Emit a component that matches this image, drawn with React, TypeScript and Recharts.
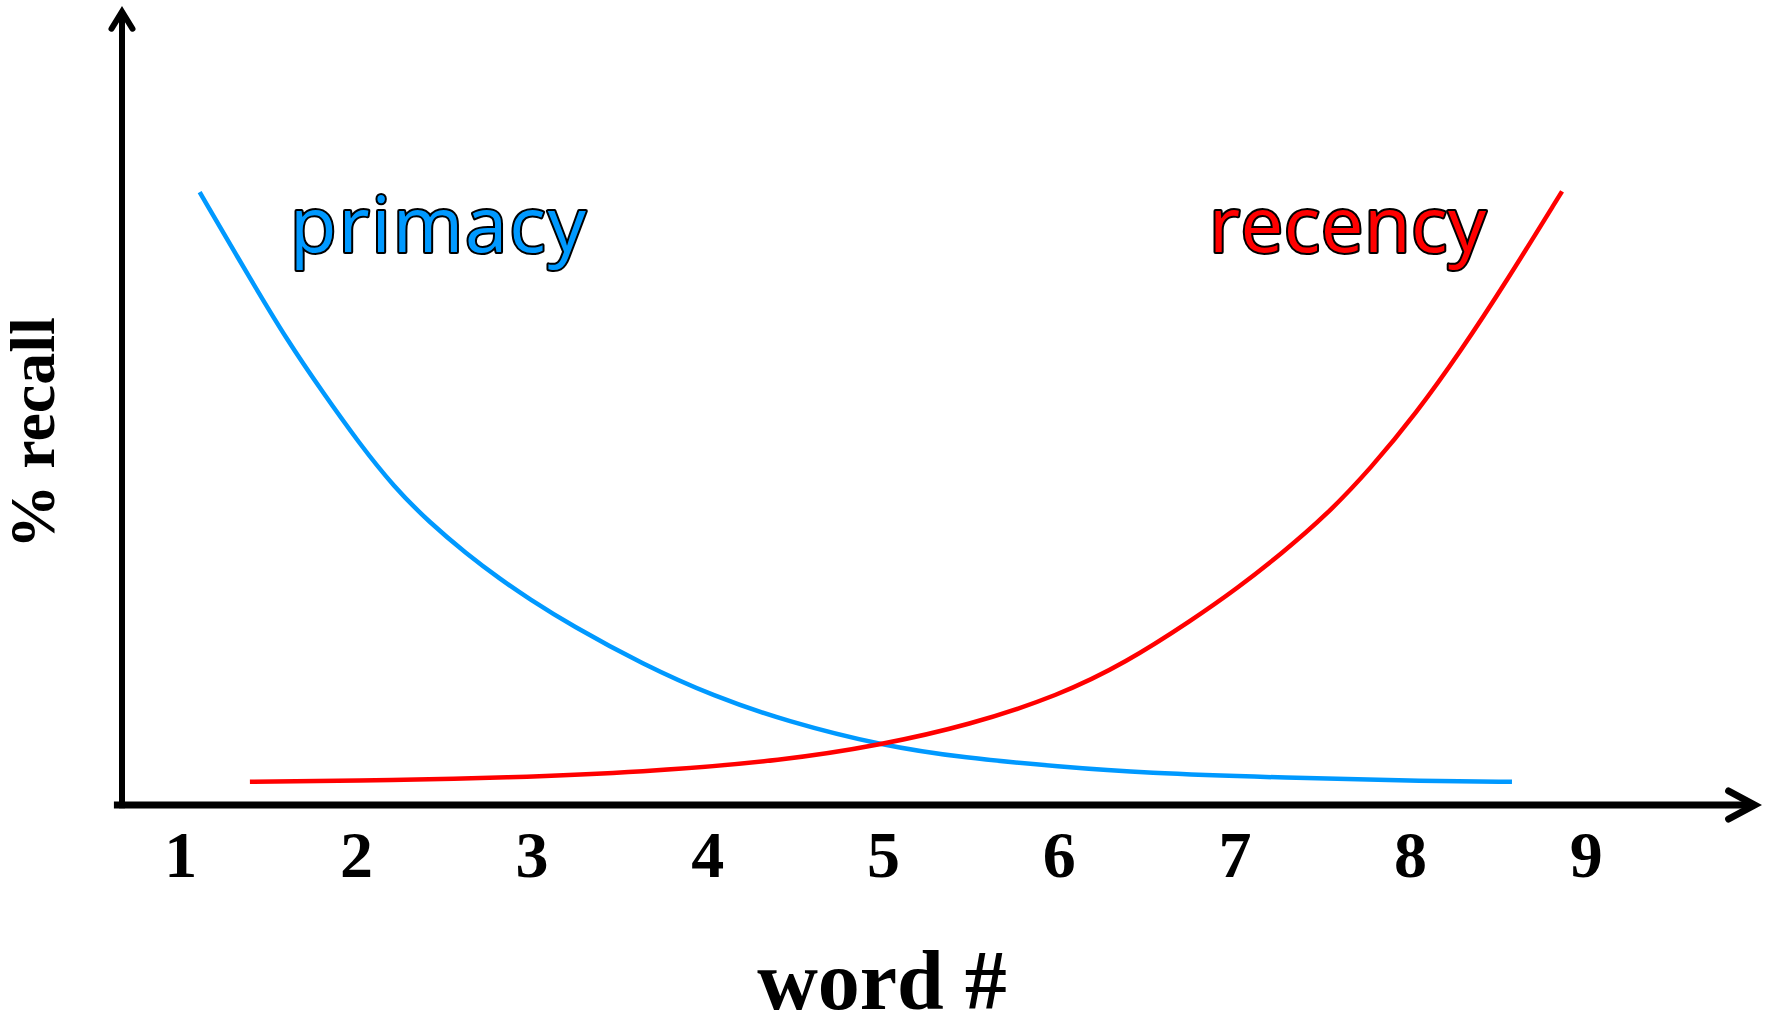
import React from 'react';
import { LineChart, Line, XAxis, YAxis, ReferenceLine, ReferenceDot, Label } from 'recharts';

// word position (x) and % recall (y)
const wordTicks = [1, 2, 3, 4, 5, 6, 7, 8, 9];
const primacyX = [1.108, 1.4, 1.605, 1.81, 2.015, 2.214, 2.419, 2.624, 2.823, 2.977, 3.222, 3.631, 4.035, 4.445, 4.997, 5.458, 6.004, 6.477, 7.291, 8.105, 8.577];
const primacyY = [76.7, 65.7, 58.2, 51.6, 45.3, 39.8, 35.3, 31.5, 28.2, 25.9, 22.5, 17.6, 13.6, 10.5, 7.4, 5.9, 4.8, 4.0, 3.4, 3.0, 2.9];
const recencyX = [1.394, 2.248, 2.817, 3.631, 4.445, 4.981, 5.488, 5.998, 6.379, 6.76, 7.013, 7.268, 7.522, 7.776, 8.031, 8.285, 8.539, 8.862];
const recencyY = [2.9, 3.1, 3.4, 4.1, 5.6, 7.5, 10.0, 13.7, 17.8, 23.2, 27.1, 31.5, 36.3, 42.2, 49.0, 56.8, 65.3, 76.8];

const primacyData = primacyX.map((x, i) => ({ x, y: primacyY[i] }));
const recencyData = recencyX.map((x, i) => ({ x, y: recencyY[i] }));

const SERIF = "'Liberation Serif', 'Times New Roman', serif";
const HAND = "'Open Sans', 'Noto Sans', sans-serif";
const BLUE = '#0099FF';
const RED = '#FF0000';

const WordTick = (props: any) => (
  <text
    x={props.x}
    y={props.y + 72}
    textAnchor="middle"
    fontFamily={SERIF}
    fontWeight="bold"
    fontSize={66}
    fill="#000"
  >
    {props.payload.value}
  </text>
);

const arrowShape = (back: number, spread: number, width: number) => (props: any) => {
  const { x1, y1, x2, y2 } = props;
  const dx = x2 - x1;
  const dy = y2 - y1;
  const len = Math.hypot(dx, dy) || 1;
  const ux = dx / len;
  const uy = dy / len;
  const px = -uy;
  const py = ux;
  const theta = Math.atan2(spread, back);
  const inset = width / 2 / Math.sin(theta);
  const vx = x2 - ux * inset;
  const vy = y2 - uy * inset;
  const bx = vx - ux * back;
  const by = vy - uy * back;
  return (
    <g>
      <line x1={x1} y1={y1} x2={vx} y2={vy} stroke="#000" strokeWidth={width} />
      <polyline
        points={`${bx + px * spread},${by + py * spread} ${vx},${vy} ${bx - px * spread},${by - py * spread}`}
        fill="none"
        stroke="#000"
        strokeWidth={width}
        strokeLinecap="round"
        strokeLinejoin="miter"
        strokeMiterlimit={10}
      />
    </g>
  );
};

const outlinedText = (text: string, color: string, spacing: number) => (props: any) => (
  <text
    x={props.cx}
    y={props.cy}
    fontFamily={HAND}
    fontSize={76}
    letterSpacing={spacing}
    fill={color}
    stroke="#000"
    strokeWidth={4}
    strokeLinejoin="round"
    paintOrder="stroke"
    textAnchor="start"
  >
    {text}
  </text>
);

const XTitle = () => (
  <text x={882} y={1009} textAnchor="middle" fontFamily={SERIF} fontWeight="bold" fontSize={84} fill="#000">
    word #
  </text>
);

const YTitle = () => (
  <text
    transform="translate(54,433) rotate(-90)"
    textAnchor="middle"
    fontFamily={SERIF}
    fontWeight="bold"
    fontSize={64}
    fill="#000"
  >
    % recall
  </text>
);

export default function App() {
  return (
    <div style={{ position: 'absolute', left: 0, top: 0, width: 1775, height: 1021, background: '#fff' }}>
      <LineChart width={1775} height={1021} margin={{ top: 6, right: 13, bottom: 156, left: 122 }}>
        <XAxis
          type="number"
          dataKey="x"
          domain={[0.666, 10]}
          ticks={wordTicks}
          interval={0}
          axisLine={false}
          tickLine={false}
          tickSize={0}
          tickMargin={0}
          height={60}
          tick={<WordTick />}
          allowDataOverflow
        >
          <Label content={() => <XTitle />} />
        </XAxis>
        <YAxis type="number" domain={[0, 100]} hide allowDataOverflow />
        <ReferenceLine
          segment={[{ x: 0.62, y: 0 }, { x: 10, y: 0 }]}
          ifOverflow="visible"
          shape={arrowShape(26, 14, 7)}
        />
        <ReferenceLine
          segment={[{ x: 0.666, y: -0.4 }, { x: 0.666, y: 100 }]}
          ifOverflow="visible"
          shape={arrowShape(17, 10.5, 6)}
          label={() => <YTitle />}
        />
        <Line
          data={primacyData}
          dataKey="y"
          type="basis"
          stroke={BLUE}
          strokeWidth={4.5}
          dot={false}
          activeDot={false}
          isAnimationActive={false}
        />
        <Line
          data={recencyData}
          dataKey="y"
          type="basis"
          stroke={RED}
          strokeWidth={4.5}
          dot={false}
          activeDot={false}
          isAnimationActive={false}
        />
        <ReferenceDot x={1.622} y={69.2} r={0} ifOverflow="visible" shape={outlinedText('primacy', BLUE, 2)} />
        <ReferenceDot x={6.853} y={69.2} r={0} ifOverflow="visible" shape={outlinedText('recency', RED, 0.5)} />
      </LineChart>
    </div>
  );
}
